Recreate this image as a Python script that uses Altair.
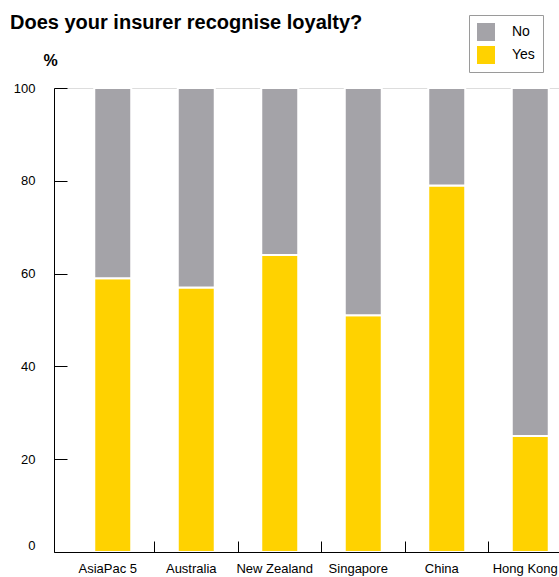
import altair as alt
import pandas as pd

categories = ["AsiaPac 5", "Australia", "New Zealand", "Singapore", "China", "Hong Kong"]
yes_values = [59, 57, 64, 51, 79, 25]
no_values = [41, 43, 36, 49, 21, 75]
series = ["No", "Yes"]
series_colors = ["#A4A3A8", "#FFD200"]
y_ticks = [0, 20, 40, 60, 80, 100]

rows = []
for c, y, n in zip(categories, yes_values, no_values):
    rows.append({"country": c, "answer": "Yes", "value": y, "ord": 0})
    rows.append({"country": c, "answer": "No", "value": n, "ord": 1})
df = pd.DataFrame(rows)

FONT = "Liberation Sans"

chart = alt.Chart(df).mark_bar(size=37, stroke="white", strokeWidth=2).encode(
    x=alt.X(
        "country:N",
        sort=categories,
        title=None,
        scale=alt.Scale(range=[0, 518], paddingInner=0, paddingOuter=0.1018, align=1),
        axis=alt.Axis(
            orient="bottom",
            domain=True, domainColor="black", domainWidth=1,
            ticks=False, tickSize=0,
            grid=True, gridColor="black", gridWidth=1,
            gridDash=[11, 453], gridDashOffset=11,
            gridOpacity={"condition": {"test": "datum.value == 'AsiaPac 5'", "value": 0}, "value": 1},
            bandPosition=0,
            labelAngle=0, labelFont=FONT, labelFontSize=13, labelColor="black",
            labelPadding=10, labelOffset=-5,
            zindex=1,
        ),
    ),
    y=alt.Y(
        "value:Q",
        stack="zero",
        scale=alt.Scale(domain=[0, 100], nice=False),
        axis=alt.Axis(
            values=y_ticks,
            domain=True, domainColor="black", domainWidth=1,
            ticks=False, tickSize=0,
            grid=True, gridColor="black", gridWidth=1, gridDash=[13, 2000],
            labelPadding=19, labelFont=FONT, labelFontSize=13, labelColor="black",
            labelBaseline={"condition": {"test": "datum.value == 0", "value": "bottom"}, "value": "middle"},
            title="%", titleAngle=0, titleX=-4, titleY=-28,
            titleAlign="center", titleBaseline="middle",
            titleFont=FONT, titleFontSize=16, titleFontWeight="bold", titleColor="black",
            zindex=1,
        ),
    ),
    color=alt.Color(
        "answer:N",
        scale=alt.Scale(domain=series, range=series_colors),
        legend=alt.Legend(
            title=None, orient="none", legendX=415, legendY=-73, direction="vertical",
            strokeColor="#9a9a9a", fillColor="white", padding=8,
            symbolType="square", symbolSize=324, symbolStrokeWidth=0,
            labelFont=FONT, labelFontSize=14, labelColor="black",
            rowPadding=5, labelOffset=17,
            labelExpr="datum.label + '\u00a0\u00a0\u00a0'",
        ),
    ),
    order=alt.Order("ord:Q"),
).properties(
    width=505,
    height=464,
    autosize=alt.AutoSizeParams(type="none"),
    padding={"left": 54, "top": 88, "right": 0, "bottom": 25},
    title=alt.TitleParams(
        text="Does your insurer recognise loyalty?",
        anchor="start", frame="group", dx=-44, dy=22,
        font=FONT, fontSize=20, fontWeight="bold", color="black",
    ),
).configure_view(stroke=None).configure(background="white")

chart.save("out.html", embed_options={"renderer": "svg", "actions": False})
